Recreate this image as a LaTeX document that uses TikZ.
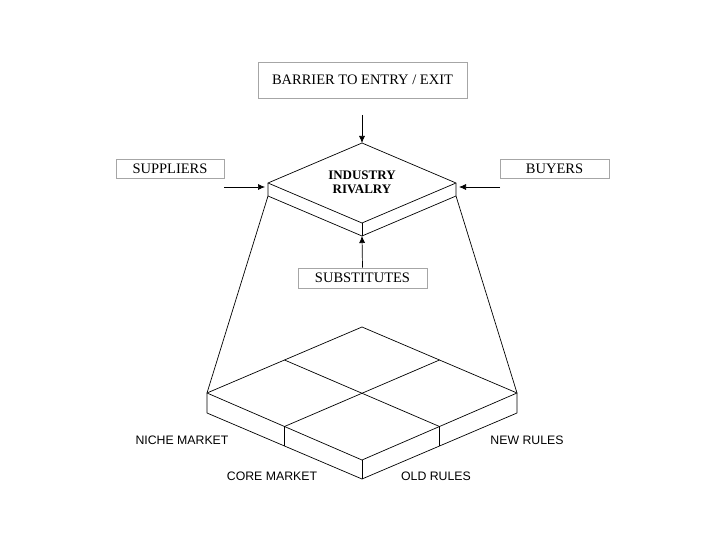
\documentclass[tikz,border=0pt]{standalone}
\usepackage{fontspec}
\setmainfont{Liberation Serif}
\newfontfamily\arialf{Liberation Sans}
\usetikzlibrary{arrows.meta}
\begin{document}
\begin{tikzpicture}[x=1pt,y=-1pt,
  line/.style={draw=black,line width=0.7pt,line join=round},
  arr/.style={line,-{Latex[length=7pt,width=6pt]}},
  lbox/.style={draw=gray!70,line width=0.6pt,inner sep=0pt,font=\fontsize{14.5}{16}\selectfont},
  slabel/.style={font=\arialf\fontsize{12.3}{14}\selectfont,inner sep=0pt}]
\useasboundingbox (0,0) rectangle (720,540);
% boxes
\node[lbox,minimum width=209pt,minimum height=36pt] (barrier) at (362.5,80) {BARRIER TO ENTRY / EXIT};
\node[lbox,minimum width=108pt,minimum height=19pt] (suppliers) at (170,168.5) {SUPPLIERS};
\node[lbox,minimum width=109pt,minimum height=19pt] (buyers) at (554.5,168.5) {BUYERS};
\node[lbox,minimum width=129pt,minimum height=20pt] (subst) at (362.5,278) {SUBSTITUTES};
% small slab
\coordinate (t1) at (362,143);
\coordinate (l1) at (268,183);
\coordinate (b1) at (362,223);
\coordinate (r1) at (456,183);
\coordinate (l1d) at (268,196);
\coordinate (b1d) at (362,236);
\coordinate (r1d) at (456,196);
\draw[line] (t1) -- (l1) -- (b1) -- (r1) -- cycle;
\draw[line] (l1) -- (l1d) -- (b1d) -- (r1d) -- (r1);
\draw[line] (b1) -- (b1d);
\node[font=\bfseries\fontsize{13}{13.5}\selectfont,align=center,inner sep=0pt] (rivalry) at (362,182.5) {INDUSTRY\\RIVALRY};
% big slab
\coordinate (t2) at (362,327);
\coordinate (l2) at (207,393);
\coordinate (b2) at (362,460);
\coordinate (r2) at (517,393);
\coordinate (l2d) at (207,413);
\coordinate (b2d) at (362,479);
\coordinate (r2d) at (517,413);
\draw[line] (t2) -- (l2) -- (b2) -- (r2) -- cycle;
\draw[line] (l2) -- (l2d) -- (b2d) -- (r2d) -- (r2);
\draw[line] (b2) -- (b2d);
\coordinate (mtl) at (284.5,360);
\coordinate (mtr) at (439.5,360);
\coordinate (mbl) at (284.5,426.5);
\coordinate (mbr) at (439.5,426.5);
\draw[line] (mtl) -- (mbr);
\draw[line] (mtr) -- (mbl);
\draw[line] (mbl) -- (284.5,446);
\draw[line] (mbr) -- (439.5,446);
% connecting lines
\draw[line] (l1d) -- (l2);
\draw[line] (r1d) -- (r2);
% arrows
\coordinate (atop) at (362,115);
\draw[arr] (atop) -- (t1);
\draw[arr] (subst.north) -- (b1d);
\coordinate (sa) at (224,187);
\coordinate (se) at (265,187);
\coordinate (ba) at (500,187);
\coordinate (be) at (459,187);
\draw[arr] (sa) -- (se);
\draw[arr] (ba) -- (be);
% labels
\node[slabel] (niche) at (182,440) {NICHE MARKET};
\node[slabel] (newr) at (527,440) {NEW RULES};
\node[slabel] (core) at (272,476) {CORE MARKET};
\node[slabel] (oldr) at (436,476) {OLD RULES};
\end{tikzpicture}
\end{document}
